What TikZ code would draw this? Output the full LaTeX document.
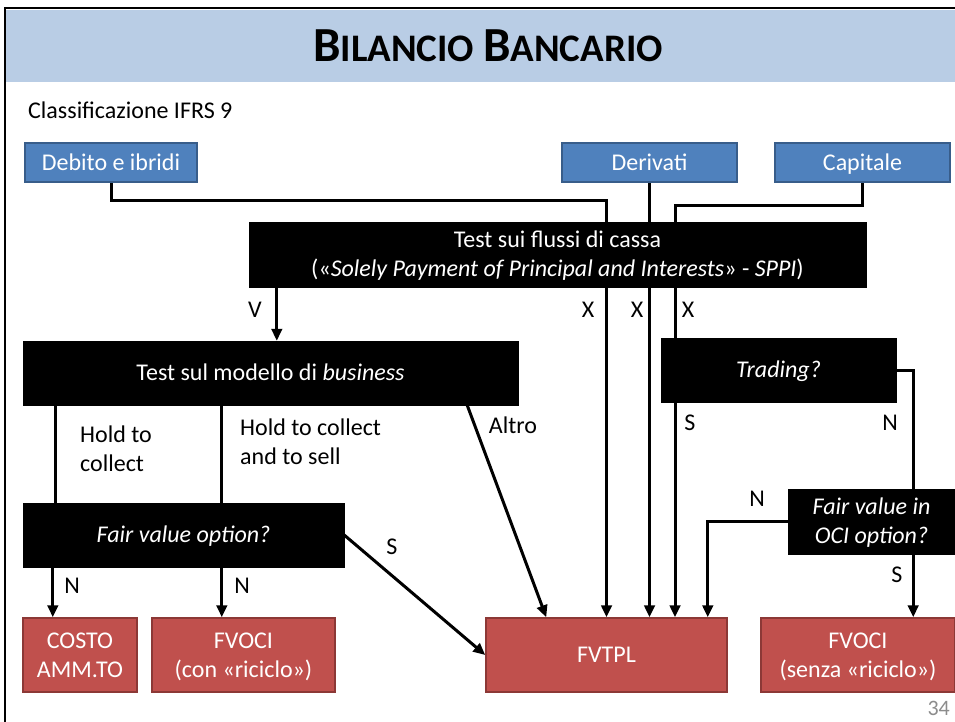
\documentclass[tikz,border=0pt]{standalone}
\usepackage{fontspec}
\setmainfont{Carlito}
\usetikzlibrary{arrows.meta,calc,backgrounds}
\definecolor{bandblue}{HTML}{B9CDE5}
\definecolor{boxblue}{HTML}{4F81BD}
\definecolor{boxblueborder}{HTML}{385D8A}
\definecolor{boxred}{HTML}{C0504D}
\definecolor{boxredborder}{HTML}{8C3836}
\definecolor{pagegray}{HTML}{8C8C8C}
\newcommand\myfs{\fontsize{24}{29}\selectfont}
\begin{document}
\begin{tikzpicture}[x=1pt,y=-1pt,
  one/.style={text height=15.5pt,text depth=0pt},
  two/.style={text height=44.5pt,text depth=0pt},
  blk/.style={fill=black,draw=black,text=white,inner sep=0pt,align=center,font=\myfs,one},
  bluebox/.style={fill=boxblue,draw=boxblueborder,line width=1.2pt,text=white,inner sep=0pt,font=\myfs,one},
  redbox/.style={fill=boxred,draw=boxredborder,line width=1.5pt,text=white,inner sep=0pt,align=center,font=\myfs,one},
  conn/.style={line width=3pt},
  arr/.style={conn,-{Triangle[length=12pt,width=10.5pt]}},
  lbl/.style={font=\myfs,text=black,inner sep=0pt,align=left}]
\useasboundingbox (0,0) rectangle (955,722);
\begin{pgfonlayer}{background}
\fill[white] (0,0) rectangle (955,722);
\fill[bandblue] (6,10) rectangle (955,82);
\end{pgfonlayer}
\draw[line width=1.6pt] (5,722) -- (5,8) -- (955,8);
\node (title) at (488,46) {\bfseries\fontsize{49}{49}\selectfont B\fontsize{39}{39}\selectfont ILANCIO \fontsize{49}{49}\selectfont B\fontsize{39}{39}\selectfont ANCARIO};
\node[lbl,anchor=west] (cls) at (28,110) {Classificazione IFRS 9};
% top boxes
\node[bluebox,minimum width=172pt,minimum height=39pt] (deb) at (111,162.5) {Debito e ibridi};
\node[bluebox,minimum width=175pt,minimum height=39pt] (der) at (649.5,162.5) {Derivati};
\node[bluebox,minimum width=175pt,minimum height=39pt] (cap) at (862.5,162.5) {Capitale};
% black decision boxes
\node[blk,two,minimum width=617pt,minimum height=65pt] (sppi) at (557.5,254.5) {Test sui flussi di cassa\\(«\textit{Solely Payment of Principal and Interests}» - \textit{SPPI})};
\node[blk,minimum width=495pt,minimum height=64pt] (bus) at (270.5,373) {Test sul modello di \textit{business}};
\node[blk,minimum width=235pt,minimum height=64pt] (trd) at (778.5,370) {\textit{Trading?}};
\node[blk,minimum width=321pt,minimum height=64pt] (fvo) at (183.5,535) {\textit{Fair value option?}};
\node[blk,two,minimum width=167pt,minimum height=65pt] (oci) at (871.5,521.5) {\textit{Fair value in}\\\textit{OCI option?}};
% result boxes
\node[redbox,two,minimum width=114pt,minimum height=74pt] (costo) at (80,655) {COSTO\\AMM.TO};
\node[redbox,two,minimum width=183pt,minimum height=74pt] (fvcon) at (243.5,655) {FVOCI\\(con «riciclo»)};
\node[redbox,minimum width=241pt,minimum height=74pt] (fvtpl) at (606.5,655) {FVTPL};
\node[redbox,two,minimum width=194pt,minimum height=74pt] (fvsenza) at (858,655) {FVOCI\\(senza «riciclo»)};
% connectors
\begin{pgfonlayer}{background}
\draw[arr] (deb.south) -- ++(0,18) -| (fvtpl.north);
\draw[arr] (der.south) -- (der.south |- fvtpl.north);
\coordinate (capin) at ($(fvtpl.north)+(68.5,0)$);
\draw[arr] (cap.south) -- ++(0,23) -| (capin);
\coordinate (vtop) at ($(sppi.south west)+(28,0)$);
\draw[arr] (vtop) -- (vtop |- bus.north);
\coordinate (h1) at ($(bus.south west)+(33,0)$);
\coordinate (h2) at ($(bus.south west)+(199,0)$);
\draw[conn] (h1) -- (h1 |- fvo.north);
\draw[conn] (h2) -- (h2 |- fvo.north);
\coordinate (n1) at ($(fvo.south west)+(30,0)$);
\draw[arr] (n1) -- (n1 |- costo.north);
\draw[arr] (h2 |- fvo.south) -- (h2 |- fvcon.north);
\draw[arr] (fvo.east) -- (fvtpl.west);
\draw[arr] ($(bus.south east)+(-51,0)$) -- ($(fvtpl.north west)+(61,0)$);
\coordinate (tn) at ($(oci.north east)+(-42,0)$);
\draw[conn] (trd.east) -| (tn);
\draw[arr] (oci.west) -| ($(fvtpl.north east)+(-20,0)$);
\draw[arr] (tn |- oci.south) -- (tn |- fvsenza.north);
\end{pgfonlayer}
% labels
\node[lbl] (lv) at (255,310) {V};
\node[lbl] (lx1) at (588,310) {X};
\node[lbl] (lx2) at (637,310) {X};
\node[lbl] (lx3) at (688,310) {X};
\node[lbl,anchor=north west] (lhc) at (80,426) {Hold to\\collect};
\node[lbl,anchor=north west] (lhcs) at (240,419) {Hold to collect\\and to sell};
\node[lbl] (laltro) at (513,425) {Altro};
\node[lbl] (ls1) at (690,423) {S};
\node[lbl] (ln1) at (890,423) {N};
\node[lbl] (ln2) at (757,499) {N};
\node[lbl] (ls2) at (392,547) {S};
\node[lbl] (ls3) at (897,575) {S};
\node[lbl] (ln3) at (72,586) {N};
\node[lbl] (ln4) at (242,586) {N};
\node[text=pagegray,anchor=east,inner sep=0pt,font=\fontsize{22}{26}\selectfont] (page) at (950,708) {34};
\end{tikzpicture}
\end{document}
